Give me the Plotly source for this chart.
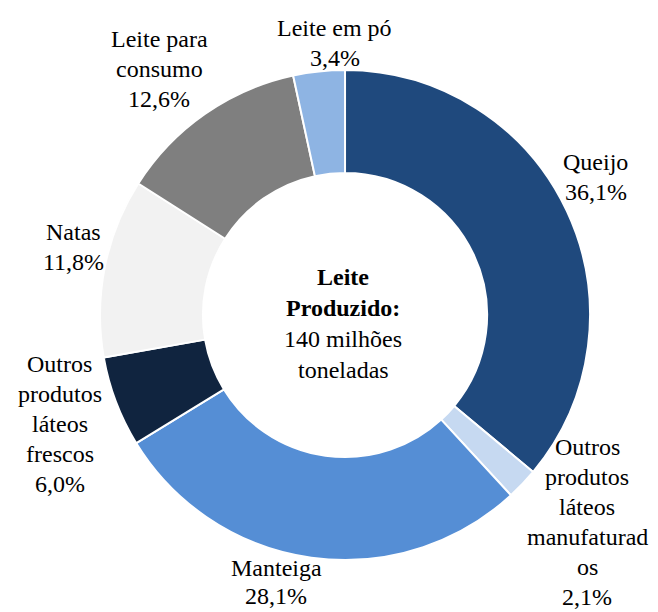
import numpy as np
import plotly.graph_objects as go

# ---- data ----
categories = ["Queijo", "Outros produtos láteos manufaturados", "Manteiga",
              "Outros produtos láteos frescos", "Natas", "Leite para consumo", "Leite em pó"]
label_lines = [["Queijo"], ["Outros", "produtos", "láteos", "manufaturad", "os"], ["Manteiga"],
               ["Outros", "produtos", "láteos", "frescos"], ["Natas"], ["Leite para", "consumo"],
               ["Leite em pó"]]
shares = [36.1, 2.1, 28.1, 6.0, 11.8, 12.6, 3.4]
center_lines = ["<b>Leite</b>", "<b>Produzido:</b>", "140 milhões", "toneladas"]

# ---- style ----
colors = ["#1F497D", "#C6D9F1", "#558ED5", "#10243F", "#F2F2F2", "#7F7F7F", "#8EB4E3"]
W, H = 658, 612
FONT = "Liberation Serif"
FS = 24
dom_x = [0.152, 0.8967]
dom_y = [0.085, 0.8856]
# label radial distance (px), fine nudges (px) and line spacing (px)
lab_r = [287, 321, 280, 300, 280, 300, 275]
lab_dx = [-9, 10, -30, -5, 3, -14, 19]
lab_dy = [16, 14, 10, -3, 13, 0, -1]
lab_ls = [30, 30, 28, 30, 30, 30, 30]

fig = go.Figure(go.Pie(
    labels=categories, values=shares, hole=0.58, sort=False,
    direction="clockwise", rotation=0,
    marker=dict(colors=colors, line=dict(color="white", width=2)),
    textinfo="none", hoverinfo="label+percent", showlegend=False,
    domain=dict(x=dom_x, y=dom_y),
))

cx = (dom_x[0] + dom_x[1]) / 2
cy = (dom_y[0] + dom_y[1]) / 2
vals = np.array(shares, dtype=float)
cum = np.cumsum(vals) / vals.sum()
mid = (cum - vals / vals.sum() / 2) * 2 * np.pi


def block(lines, x, y, dx, dy, ls):
    n = len(lines)
    out = []
    for k, t in enumerate(lines):
        out.append(dict(
            x=float(x), y=float(y), xref="paper", yref="paper", text=t,
            showarrow=False, xanchor="center", yanchor="middle",
            xshift=dx, yshift=dy + ((n - 1) / 2 - k) * ls,
            font=dict(family=FONT, size=FS, color="black"),
        ))
    return out


annotations = []
for i, v in enumerate(shares):
    pct = f"{v:.1f}".replace(".", ",") + "%"
    x = cx + lab_r[i] * np.sin(mid[i]) / W
    y = cy + lab_r[i] * np.cos(mid[i]) / H
    annotations += block(label_lines[i] + [pct], x, y, lab_dx[i], lab_dy[i], lab_ls[i])

annotations += block(center_lines, cx, cy, -2, -9, 31)

fig.update_layout(
    width=W, height=H, margin=dict(l=0, r=0, t=0, b=0),
    paper_bgcolor="white", plot_bgcolor="white",
    font=dict(family=FONT, size=FS, color="black"),
    annotations=annotations,
)

fig.write_html("out.html", config={"displayModeBar": False},
               post_script="document.body.style.margin='0px';")
